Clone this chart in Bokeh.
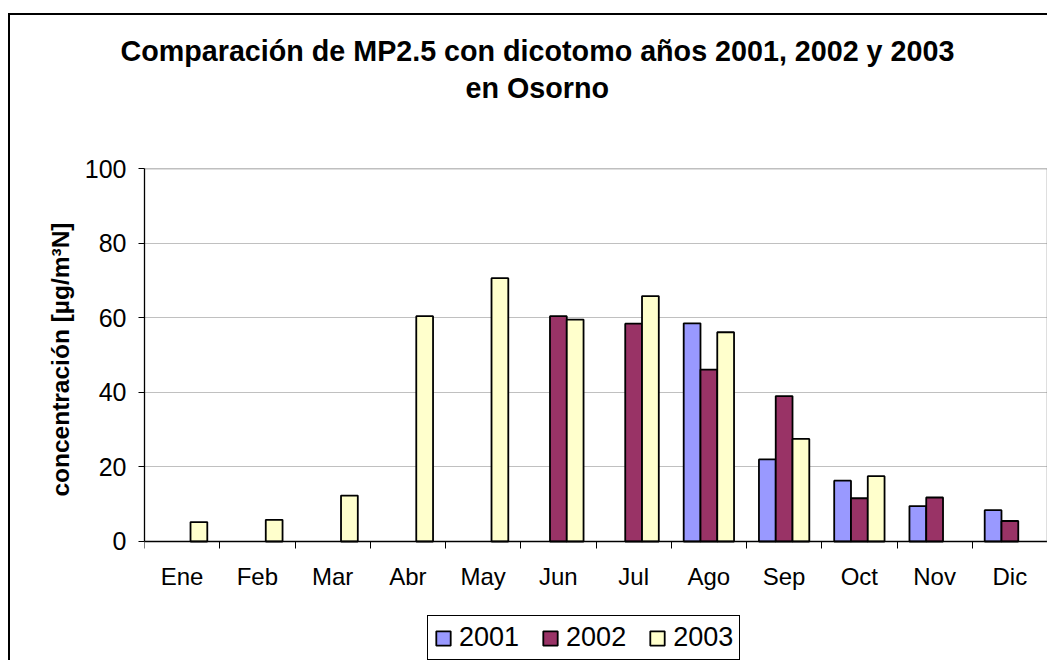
import math
from bokeh.plotting import figure
from bokeh.models import (ColumnDataSource, Range1d, FixedTicker, Legend,
                          LegendItem, Title, LinearAxis)
from bokeh.transform import dodge
from bokeh.embed import file_html
from bokeh.resources import INLINE

NaN = float("nan")

# ---- data ----
months = ["Ene", "Feb", "Mar", "Abr", "May", "Jun", "Jul", "Ago", "Sep", "Oct", "Nov", "Dic"]
years = ["2001", "2002", "2003"]
v2001 = [NaN, NaN, NaN, NaN, NaN, NaN, NaN, 58.5, 22.0, 16.3, 9.5, 8.4]
v2002 = [NaN, NaN, NaN, NaN, NaN, 60.4, 58.4, 46.1, 39.0, 11.6, 11.8, 5.5]
v2003 = [5.2, 5.8, 12.3, 60.4, 70.6, 59.5, 65.8, 56.1, 27.5, 17.5, NaN, NaN]
y_ticks = [0, 20, 40, 60, 80, 100]
grid_ticks = [20, 40, 60, 80]
title_lines = ["Comparación de MP2.5 con dicotomo años 2001, 2002 y 2003", "en Osorno"]
y_label = "concentración [µg/m³N]"

colors = ["#9999FF", "#993366", "#FFFFCC"]
FONT = "Liberation Sans"
Y_MIN, Y_MAX = 0, 100

centers = [i + 0.5 for i in range(len(months))]
bounds = [i for i in range(len(months) + 1)]
src = ColumnDataSource(dict(x=centers, y2001=v2001, y2002=v2002, y2003=v2003))

# frame extends below the x axis (room for the legend); axis drawn at y = 0
p = figure(width=1039, height=647,
           x_range=Range1d(0, len(months)), y_range=Range1d(-32.44, Y_MAX),
           output_backend="svg", toolbar_location=None,
           min_border_left=134, min_border_right=2,
           min_border_top=153, min_border_bottom=0)
p.styles = {"margin-top": "13px", "margin-left": "8px",
            "border-left": "2px solid #000", "border-top": "2px solid #000"}

p.background_fill_color = "white"
p.border_fill_color = "white"
p.outline_line_color = None

# grid
p.xgrid.visible = False
p.ygrid.ticker = FixedTicker(ticks=grid_ticks)
p.ygrid.grid_line_color = "#C0C0C0"
p.ygrid.grid_line_width = 1

# bars
bw = 0.223
offsets = [-bw, 0.0, bw]
renderers = []
for yr, off, col in zip(years, offsets, colors):
    r = p.vbar(x=dodge("x", off), top="y" + yr, width=bw, bottom=0, source=src,
               fill_color=col, line_color="black", line_width=1.8)
    renderers.append(r)

# x axis (at y = 0)
xa = p.xaxis[0]
xa.fixed_location = 0
xa.bounds = (0, len(months))
xa.ticker = FixedTicker(ticks=centers, minor_ticks=bounds)
xa.major_label_overrides = {c: m for c, m in zip(centers, months)}
xa.major_tick_out = 0
xa.major_tick_in = 0
xa.minor_tick_out = 7
xa.minor_tick_in = 0
xa.minor_tick_line_color = "black"
xa.axis_line_color = "black"
xa.axis_line_width = 1.3
xa.major_label_standoff = 15
xa.major_label_text_font = FONT
xa.major_label_text_font_size = "24px"
xa.major_label_text_color = "black"

# y axis
ya = p.yaxis[0]
ya.bounds = (Y_MIN, Y_MAX)
ya.ticker = FixedTicker(ticks=y_ticks)
ya.major_tick_out = 6
ya.major_tick_in = 0
ya.minor_tick_out = 0
ya.minor_tick_in = 0
ya.major_tick_line_color = "black"
ya.axis_line_color = "black"
ya.axis_line_width = 1.3
ya.major_label_standoff = 12
ya.major_label_text_font = FONT
ya.major_label_text_font_size = "25px"
ya.major_label_text_color = "black"

# y axis title, placed along the 0..100 part of the axis
p.add_layout(Title(text=y_label, align="right", offset=54, standoff=16,
                   text_font=FONT, text_font_size="24.5px", text_font_style="bold",
                   text_color="black"), "left")

# gray frame lines (top and right of the plot area)
top_line = LinearAxis(fixed_location=Y_MAX, bounds=(0, len(months)), ticker=FixedTicker(ticks=[]),
                      axis_line_color="#808080", axis_line_width=1.5,
                      major_tick_line_color=None, minor_tick_line_color=None)
right_line = LinearAxis(fixed_location=len(months), bounds=(Y_MIN, Y_MAX), ticker=FixedTicker(ticks=[]),
                        axis_line_color="#808080", axis_line_width=1.5,
                        major_tick_line_color=None, minor_tick_line_color=None)
p.add_layout(right_line, "right")

# title: spacer + two lines (first added sits nearest the plot)
p.add_layout(top_line, "above")
p.add_layout(Title(text=" ", text_font_size="2px", standoff=61), "above")
p.add_layout(Title(text=title_lines[1], align="left", offset=321, standoff=0,
                   text_font=FONT, text_font_size="28.7px", text_font_style="bold",
                   text_color="black"), "above")
p.add_layout(Title(text=title_lines[0], align="left", offset=-24, standoff=6,
                   text_font=FONT, text_font_size="28.7px", text_font_style="bold",
                   text_color="black"), "above")

legend = Legend(items=[LegendItem(label=yr, renderers=[r]) for yr, r in zip(years, renderers)],
                location=(283, 2), orientation="horizontal",
                glyph_width=18, glyph_height=18, label_standoff=7, spacing=22, padding=6,
                margin=0, label_text_font=FONT, label_text_font_size="27px",
                label_text_color="black", border_line_color="black", border_line_width=1.2,
                border_line_alpha=1.0,
                background_fill_color="white", background_fill_alpha=1)
p.add_layout(legend)

open("out.html", "w").write(file_html(p, INLINE))
